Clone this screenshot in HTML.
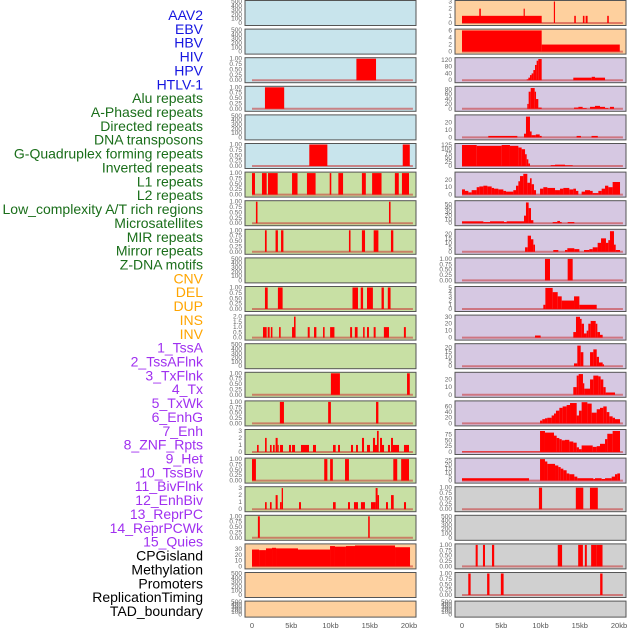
<!DOCTYPE html>
<html><head><meta charset="utf-8"><style>
body{margin:0;background:#fff;width:630px;height:630px;overflow:hidden;font-family:"Liberation Sans",sans-serif}
svg{position:absolute;left:0;top:0}
</style></head><body>
<svg id="chart" width="630" height="630"></svg>
<script>
const labels=["AAV2","EBV","HBV","HIV","HPV","HTLV-1","Alu repeats","A-Phased repeats","Directed repeats","DNA transposons","G-Quadruplex forming repeats","Inverted repeats","L1 repeats","L2 repeats","Low_complexity A/T rich regions","Microsatellites","MIR repeats","Mirror repeats","Z-DNA motifs","CNV","DEL","DUP","INS","INV","1_TssA","2_TssAFlnk","3_TxFlnk","4_Tx","5_TxWk","6_EnhG","7_Enh","8_ZNF_Rpts","9_Het","10_TssBiv","11_BivFlnk","12_EnhBiv","13_ReprPC","14_ReprPCWk","15_Quies","CPGisland","Methylation","Promoters","ReplicationTiming","TAD_boundary"];
const labelGroups=[6,13,5,15,5];
const groupColors=["#1515e0","#1a6e1a","#ffa500","#a030f0","#000"];
const xTickValues=[0,5,10,15,20];
const xTickLabels=["0","5kb","10kb","15kb","20kb"];
// left column series: [startKb,endKb,value]
const L=[
[],[],
[[13.3,15.8,1]],
[[1.65,4.1,1]],
[],
[[7.3,9.6,1],[19.2,20.1,1]],
[[0,0.38,1],[1.27,1.87,1],[2.04,3.27,1],[5.1,5.8,1],[7.0,8.1,1],[9.9,10.1,1],[11.0,11.6,1],[14.0,14.5,1],[15.3,16.5,1],[18.2,18.7,1],[19.1,20.0,1]],
[[0.5,0.7,1],[17.45,17.65,1]],
[[1.65,1.87,1],[3.0,3.3,1],[3.7,4.0,1],[12.35,12.55,1],[14.0,14.4,1],[15.5,16.1,1],[17.7,18.0,1]],
[],
[[1.65,2.0,1],[3.3,3.9,1],[12.8,13.5,1],[13.85,14.15,1],[14.65,15.4,1],[16.5,16.8,1],[17.3,17.65,1]],
[[1.4,1.87,1],[2.0,2.25,1],[2.4,2.6,1],[3.45,3.65,1],[5.1,5.35,1],[5.35,5.55,2],[7.1,7.35,1],[7.9,8.2,1],[9.05,9.25,1],[9.95,10.5,1],[12.5,12.75,1],[13.1,13.45,1],[14.15,14.35,1],[14.65,14.9,1],[15.5,15.75,1],[16.8,17.45,1],[19.35,19.6,1]],
[],
[[10.05,11.2,1],[19.75,20.1,1]],
[[3.55,4.07,1],[9.7,10.05,1],[15.8,16.1,1]],
[[0.64,0.85,1],[1.66,1.87,2],[2.29,2.5,1],[2.68,2.89,1],[3.01,3.27,2],[3.27,3.4,1],[3.57,3.95,1],[4.71,4.97,1],[5.1,5.48,1],[6.24,7.26,1],[7.77,8.15,1],[10.32,10.66,1],[10.96,11.21,1],[12.61,12.87,1],[13.25,13.5,1],[14.01,14.27,2],[14.65,15.03,1],[15.41,15.67,2],[15.67,15.92,1],[15.92,16.14,3],[16.31,16.56,2],[16.56,16.82,1],[17.32,17.58,1],[17.71,17.96,2],[17.96,18.73,1],[19.36,20.0,1]],
[[0,0.5,1],[9.2,9.6,1],[9.95,10.3,1],[11.85,12.35,1],[18.0,18.5,1],[19.0,20.0,1]],
[[1.66,1.87,1],[2.29,2.5,1],[3.01,3.27,2],[3.57,3.78,1],[3.78,3.95,3],[5.99,6.24,1],[10.32,10.66,1],[12.23,12.48,1],[12.99,13.5,1],[13.88,14.39,1],[15.16,15.75,1],[15.75,16.0,3],[16.0,16.18,2],[17.07,17.32,1],[17.71,18.05,2],[19.36,19.62,1]],
[[0.75,1.0,1],[14.8,15.0,1]],
[[0,0.9,29],[0.9,1.78,28],[1.78,2.55,31],[2.55,3.06,32],[3.06,5.86,31],[5.86,9.94,29],[9.94,10.57,35],[10.57,11.97,34],[11.97,13.12,35],[13.12,18.22,36],[18.22,20.13,33]],
[],[]
];
const R=[
[[0,10.15,1],[2.2,2.4,2],[7.85,8.0,2],[11.7,11.85,3],[14.3,14.5,1],[15.4,15.6,1],[15.75,16.0,1],[18.5,18.7,1]],
[[0,10.15,6],[10.15,20.1,2]],
[[8.24,8.45,5],[8.45,8.66,15],[8.66,8.87,30],[8.87,9.09,40],[9.09,9.3,60],[9.3,9.51,90],[9.51,9.72,115],[9.72,10.15,125],[14.18,16.52,15],[16.52,16.94,20],[16.94,18.22,15]],
[[8.32,8.49,20],[8.49,8.75,70],[8.75,9.26,85],[9.26,9.43,70],[9.43,9.72,40],[9.72,10.15,5],[14.27,14.82,5],[14.82,15.37,8],[15.37,15.88,3],[16.31,16.94,8],[16.94,17.58,12],[17.58,18.22,8],[18.22,18.64,3],[18.85,19.36,8]],
[[3.35,7.05,2],[7.9,8.15,5],[8.15,8.66,28],[8.66,8.87,8],[8.87,9.4,3],[9.4,9.9,4],[9.9,10.15,2],[14.6,15.15,2],[16.5,17.3,2]],
[[0,1.87,125],[1.87,5.05,120],[5.05,6.11,125],[6.11,7.18,120],[7.18,7.6,110],[7.6,8.03,100],[8.03,8.24,70],[8.24,8.45,40],[8.45,8.66,15],[11.3,11.85,5],[11.85,13.12,8],[13.12,14.1,4]],
[[0,0.38,7],[0.38,0.81,5],[0.81,1.23,3],[1.23,1.87,6],[1.87,2.21,10],[2.21,2.72,11],[2.72,3.23,12],[3.23,3.78,11],[3.78,4.08,9],[4.08,4.63,8],[4.63,5.27,7],[5.27,5.61,5],[5.61,6.54,4],[6.54,6.88,6],[6.88,7.18,12],[7.18,7.39,18],[7.39,7.81,25],[7.81,8.32,28],[8.32,8.66,16],[8.66,8.87,22],[8.87,9.17,14],[9.17,9.43,6],[9.94,10.36,8],[10.36,10.87,10],[10.87,11.85,9],[11.85,12.48,6],[12.48,12.91,8],[12.91,13.67,9],[13.67,14.18,7],[14.18,14.52,8],[14.52,14.82,5],[15.24,15.67,4],[15.67,16.31,6],[16.31,16.65,5],[16.65,17.37,2],[17.37,17.79,5],[17.79,18.22,8],[18.22,18.64,12],[18.64,19.19,10],[19.19,20.13,17]],
[[0,2.72,5],[2.72,3.57,3],[3.57,5.35,5],[5.35,5.69,3],[5.69,7.9,5],[7.9,8.15,20],[8.15,8.49,55],[8.49,8.79,40],[8.79,9.09,8],[11.55,12.14,3],[12.14,12.48,6],[12.48,12.7,3],[13.46,14.31,3]],
[[8.03,8.37,5],[8.37,8.79,18],[8.79,9.09,14],[9.09,9.3,8],[11.63,12.27,2],[13.12,13.42,2],[13.42,14.31,4],[14.31,14.95,3],[15.54,16.22,2],[16.22,16.65,3],[16.65,17.28,5],[17.28,17.71,10],[17.71,18.34,15],[18.34,18.64,10],[18.64,18.85,13],[18.85,19.36,23],[19.36,19.58,8],[19.58,20.13,2]],
[[10.57,11.21,1],[13.46,14.1,1]],
[[10.36,10.62,1],[10.62,11.55,5],[11.55,12.19,4],[12.19,12.7,3],[12.7,14.27,2],[14.27,14.95,3],[14.95,17.16,1]],
[[9.3,10.02,3],[14.18,14.52,8],[14.52,15.03,30],[15.03,15.24,27],[15.24,15.54,20],[15.54,15.88,6],[15.88,16.09,10],[16.09,16.39,20],[16.39,17.03,24],[17.03,17.24,20],[17.24,17.58,8],[17.58,17.92,4]],
[[14.27,14.69,3],[14.69,15.12,22],[15.12,15.46,15],[16.31,16.73,15],[16.73,17.16,18],[17.16,17.45,10],[17.45,17.92,4],[17.92,18.09,2]],
[[14.18,14.61,10],[14.61,14.86,25],[14.86,15.41,27],[15.41,15.58,15],[15.58,16.31,8],[16.31,16.73,20],[16.73,17.37,25],[17.37,17.66,24],[17.66,18.0,20],[18.0,18.3,10],[18.3,19.49,3]],
[[9.94,10.23,10],[10.23,10.57,15],[10.57,10.87,18],[10.87,11.42,20],[11.42,11.72,28],[11.72,11.97,35],[11.97,12.4,45],[12.4,12.82,55],[12.82,13.33,60],[13.33,13.76,65],[13.76,14.61,72],[14.61,14.9,28],[14.9,15.24,45],[15.24,15.97,75],[15.97,16.52,70],[16.52,17.16,38],[17.16,17.58,50],[17.58,18.0,55],[18.0,18.43,60],[18.43,18.77,40],[18.77,19.19,25],[19.19,19.49,20],[19.49,20.13,15]],
[[0,9.94,2],[9.94,10.57,90],[10.57,11.72,83],[11.72,12.06,70],[12.06,12.4,60],[12.4,12.7,55],[12.7,13.12,50],[13.12,13.67,52],[13.67,14.18,45],[14.18,14.61,40],[14.61,14.9,20],[14.9,15.24,12],[15.24,16.65,28],[16.65,17.16,22],[17.16,17.58,25],[17.58,18.22,35],[18.22,18.51,55],[18.51,19.19,78],[19.19,20.13,90]],
[[0,8.54,3],[9.94,10.57,27],[10.57,10.87,24],[10.87,11.85,21],[11.85,12.27,19],[12.27,12.57,17],[12.57,12.91,15],[12.91,13.33,13],[13.33,13.67,9],[13.67,14.31,8],[14.31,14.69,5],[14.69,16.73,3],[16.73,16.94,2],[16.94,17.79,3],[17.79,18.22,2],[18.22,19.07,3],[19.07,19.49,5],[19.49,19.79,8],[19.79,20.13,9]],
[[9.8,10.2,1],[14.5,15.45,1],[16.3,17.3,1]],
[],
[[1.74,2.0,1],[2.67,2.93,1],[3.82,4.1,1],[12.2,12.75,1],[14.8,15.4,1],[15.65,15.9,1],[16.45,17.1,1],[17.1,17.9,1]],
[[0.8,1.1,1],[3.2,3.5,1],[4.95,5.3,1],[17.6,17.9,1]],
[]
];
const B=["0.00","0.25","0.50","0.75","1.00"], E=["0","100","200","300","400","500"];
const leftTicks=[E,E,B,B,E,B,B,B,B,E,B,["0.0","0.5","1.0","1.5","2.0"],E,B,B,["0","1","2","3"],B,["0","1","2","3"],B,["0","10","20","30"],E,E];
const leftYMax=[500,500,1,1,500,1,1,1,1,500,1,2.05,500,1,1,3.05,1,3.05,1,37,500,500];
const rightTicks=[["0","1","2","3"],["0","2","4","6"],["0","40","80","120"],["0","20","40","60","80"],["0","10","20"],["0","25","50","75","100","125"],["0","10","20"],["0","10","20","30","40","50"],["0","5","10","15","20"],B,["0","1","2","3","4","5"],["0","10","20","30"],["0","5","10","15","20"],["0","10","20"],["0","20","40","60"],["0","25","50","75"],["0","5","10","15","20","25"],B,E,B,B,E];
const rightYMax=[3,6.1,127,88,29,128,29,57,24,1,5.1,31,23,28,76,92,27,1,500,1,1,500];
const leftBg=r=>r<6?"#c8e4ec":(r<19?"#c8e0a4":"#fed09e");
const rightBg=r=>r<2?"#fed09e":(r<17?"#d6c8e2":"#d0d0d0");

const NS="http://www.w3.org/2000/svg";
const svg=document.getElementById('chart');
function mk(tag,attrs,parent){const e=document.createElementNS(NS,tag);for(const k in attrs)e.setAttribute(k,attrs[k]);(parent||svg).appendChild(e);return e;}

// labels
let gi=0,cnt=0;
labels.forEach((t,i)=>{
  while(cnt>=labelGroups[gi]){gi++;cnt=0;}cnt++;
  const el=mk('text',{x:203,y:20+i*13.86,'text-anchor':'end','font-size':14,fill:groupColors[gi],'font-family':'Liberation Sans, sans-serif'});
  el.textContent=t;
  
  
});

function panel(col,r){
  const data=col?R[r]:L[r], ticks=col?rightTicks[r]:leftTicks[r], ymax=col?rightYMax[r]:leftYMax[r];
  const px=col?455:245, pw=171, x0=col?462:252, kx=7.85;
  const top=0.5+28.6*r, h=(r===21?16:25);
  const g=mk('g',{});
  
  
  mk('rect',{x:px,y:top,width:pw,height:h,fill:col?rightBg(r):leftBg(r)},g);
  const xs=kb=>x0+kb*kx;
  const ys=v=>top+h-2.5-(h-3.5)*v/ymax;
  ticks.forEach(t=>{
    const tx=mk('text',{x:px-3,y:ys(parseFloat(t))+2,'text-anchor':'end','font-size':6.5,fill:'#666'},g);
    tx.textContent=t;
    
    
  });
  if(data.length){
    if(ymax!==500){
      const bl=mk('line',{x1:xs(0),x2:xs(20.5),y1:ys(0),y2:ys(0),stroke:'rgba(200,50,50,0.55)','stroke-width':2},g);
      
      
    }
    data.forEach(d=>{
      const y=ys(d[2]);
      const b=mk('rect',{x:xs(d[0]),y:y,width:Math.max(1,xs(d[1])-xs(d[0])),height:ys(0)-y,fill:'#ff0000'},g);
      
      
    });
  }
  mk('rect',{x:px,y:top,width:pw,height:h,fill:'none',stroke:'#555','stroke-width':1},g);
}
for(let r=0;r<22;r++){panel(0,r);panel(1,r);}

[252,462].forEach((x0,c)=>{
  xTickValues.forEach((v,i)=>{
    const t=mk('text',{x:x0+v*7.85,y:628,'text-anchor':'middle','font-size':7.5,fill:'#555'});
    t.textContent=xTickLabels[i];
    
    
  });
});
</script>
</body></html>
